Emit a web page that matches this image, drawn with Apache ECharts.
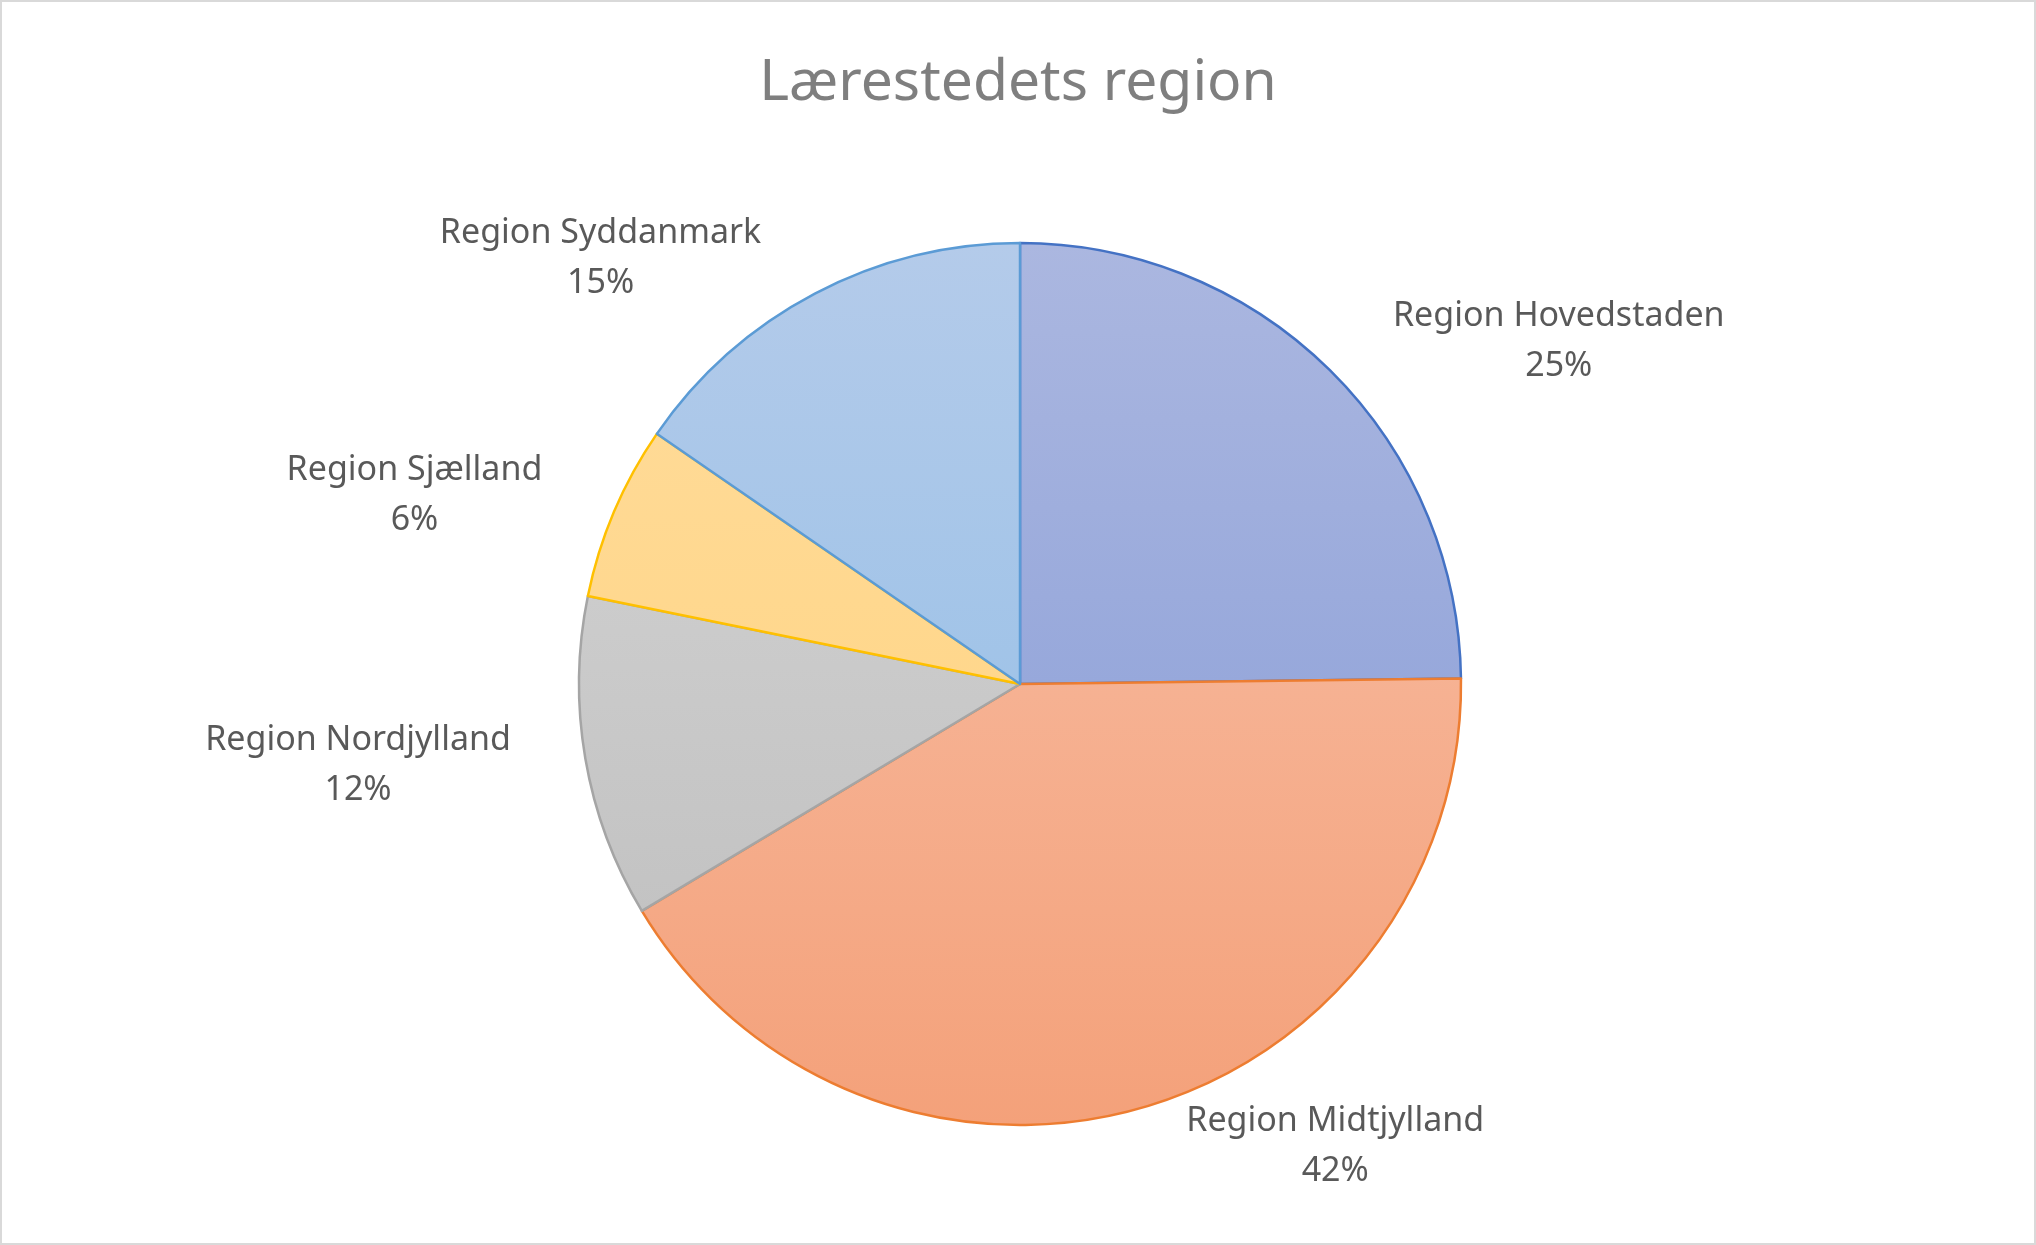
<!DOCTYPE html>
<html><head><meta charset="utf-8">
<script src="https://cdn.jsdelivr.net/npm/echarts@6/dist/echarts.min.js"></script>
<style>html,body{margin:0;padding:0;background:#fff}#c{width:2036px;height:1245px;box-sizing:border-box;border:2px solid #d9d9d9}</style>
</head><body><div id="c"></div>
<script>
const categories = ['Region Hovedstaden','Region Midtjylland','Region Nordjylland','Region Sjælland','Region Syddanmark'];
const values = [24.8, 41.6, 11.8, 6.4, 15.4];
const topColors = ['#abb7e0','#f8c2ab','#d6d6d6','#ffdc9c','#b4cbea'];
const bottomColors = ['#8399d6','#f4a17a','#bdbdbd','#ffd27c','#8dbce6'];
const borders = ['#4472c4','#ed7d31','#a5a5a5','#ffc000','#5b9bd5'];
const chart = echarts.init(document.getElementById('c'));
const cy = 682, r = 441;
chart.setOption({
  animation:false,
  title:{text:'Lærestedets region',left:'center',top:48,textStyle:{fontFamily:'Noto Sans',fontSize:57,fontWeight:'normal',color:'#7f7f7f'}},
  series:[{type:'pie',center:[1018,cy],radius:r,startAngle:90,clockwise:true,percentPrecision:0,
    label:{show:true,position:'outside',formatter:'{a|{b}}\n{a|{d}%}',
      rich:{a:{fontFamily:'Noto Sans',fontSize:34,color:'#595959',lineHeight:50,align:'center'}}},
    labelLine:{show:false,length:40,length2:30},
    data:categories.map((c,i)=>({name:c,value:values[i],itemStyle:{borderColor:borders[i],borderWidth:2.5,
      color:{type:'linear',x:0,y:cy-r,x2:0,y2:cy+r,global:true,colorStops:[{offset:0,color:topColors[i]},{offset:1,color:bottomColors[i]}]}}}))
  }]
});
</script></body></html>
